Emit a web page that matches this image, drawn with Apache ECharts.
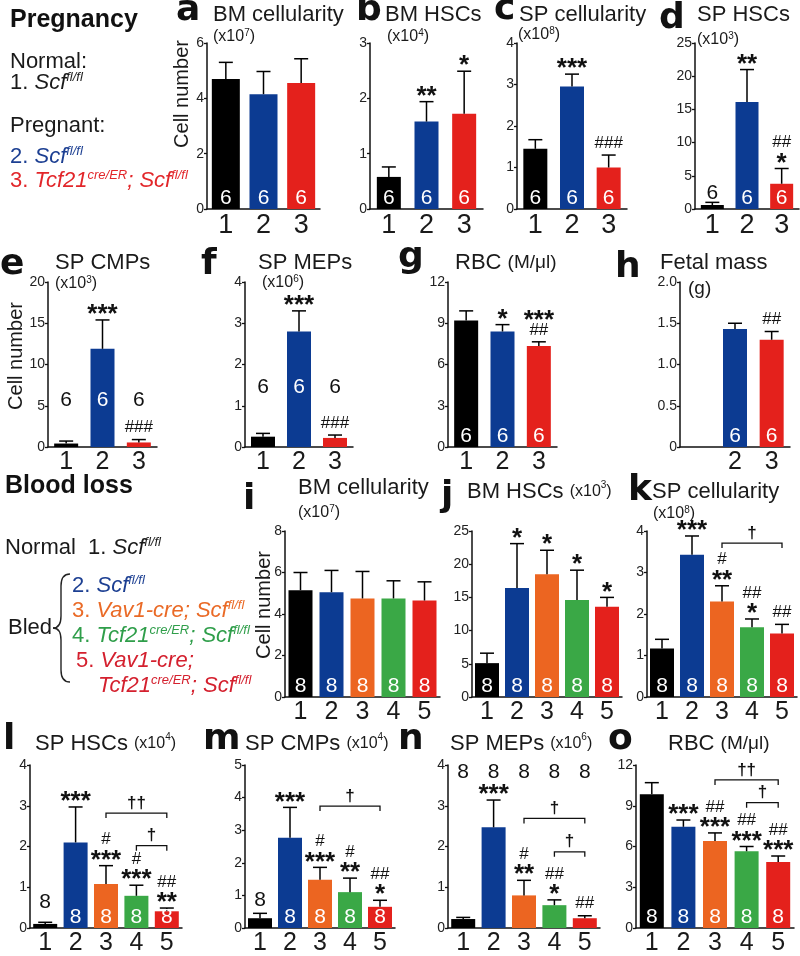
<!DOCTYPE html>
<html><head><meta charset="utf-8">
<script src="https://cdn.jsdelivr.net/npm/echarts@6/dist/echarts.min.js"></script>
<style>html,body{margin:0;padding:0;background:#fff}#c{width:800px;height:956px}</style>
</head><body><div id="c"></div>
<script>
// ---------- data ----------
const catsPreg = ['1', '2', '3'];
const catsFetal = ['', '2', '3'];
const catsBlood = ['1', '2', '3', '4', '5'];

const aMean = [4.7, 4.15, 4.55];   const aErr = [0.6, 0.82, 0.88];  const aN = [6, 6, 6];
const bMean = [0.58, 1.58, 1.72];  const bErr = [0.18, 0.36, 0.77]; const bN = [6, 6, 6];
const cMean = [1.45, 2.95, 1.0];   const cErr = [0.22, 0.3, 0.3];   const cN = [6, 6, 6];
const dMean = [0.6, 16.1, 3.8];    const dErr = [0.4, 4.9, 2.3];    const dN = [6, 6, 6];
const eMean = [0.42, 11.9, 0.55];  const eErr = [0.3, 3.5, 0.35];   const eN = [6, 6, 6];
const fMean = [0.25, 2.8, 0.22];   const fErr = [0.08, 0.5, 0.07];  const fN = [6, 6, 6];
const gMean = [9.2, 8.4, 7.35];    const gErr = [0.7, 0.5, 0.3];    const gN = [6, 6, 6];
const hMean = [null, 1.43, 1.3];   const hErr = [null, 0.07, 0.1];  const hN = [null, 6, 6];
const iMean = [5.15, 5.05, 4.75, 4.75, 4.65]; const iErr = [0.85, 1.05, 1.3, 0.85, 0.9];
const jMean = [5.1, 16.4, 18.5, 14.6, 13.6];  const jErr = [1.5, 6.7, 3.6, 4.5, 1.4];
const kMean = [1.17, 3.43, 2.3, 1.68, 1.53];  const kErr = [0.22, 0.45, 0.38, 0.2, 0.22];
const lMean = [0.1, 2.1, 1.08, 0.79, 0.41];   const lErr = [0.04, 0.87, 0.45, 0.26, 0.08];
const mMean = [0.3, 2.77, 1.48, 1.1, 0.65];   const mErr = [0.15, 0.93, 0.38, 0.43, 0.2];
const nMean = [0.22, 2.47, 0.8, 0.56, 0.24];  const nErr = [0.04, 0.67, 0.37, 0.13, 0.06];
const oMean = [9.85, 7.45, 6.4, 5.65, 4.85];  const oErr = [0.85, 0.5, 0.6, 0.35, 0.45];
const blN = [8, 8, 8, 8, 8];

// significance marks per bar (top line first)
const bSig = [[], ['**'], ['*']];
const cSig = [[], ['***'], ['###']];
const dSig = [[], ['**'], ['##', '*']];
const eSig = [[], ['***'], ['###']];
const fSig = [[], ['***'], ['###']];
const gSig = [[], ['*'], ['***', '##']];
const hSig = [[], [], ['##']];
const jSig = [[], ['*'], ['*'], ['*'], ['*']];
const kSig = [[], ['***'], ['#', '**'], ['##', '*'], ['##']];
const lSig = [[], ['***'], ['#', '***'], ['#', '***'], ['##', '**']];
const mSig = [[], ['***'], ['#', '***'], ['#', '**'], ['##', '*']];
const nSig = [[], ['***'], ['#', '**'], ['##', '*'], ['##']];
const oSig = [[], ['***'], ['##', '***'], ['##', '***'], ['##', '***']];

// comparison brackets: [from bar, to bar, height (axis units), mark]
const kBr = [[2, 4, 3.71, '†']];
const lBr = [[2, 4, 2.82, '††'], [3, 4, 2.02, '†']];
const mBr = [[2, 4, 3.74, '†']];
const nBr = [[2, 4, 2.69, '†'], [3, 4, 1.87, '†']];
const oBr = [[2, 4, 10.9, '††'], [3, 4, 9.23, '†']];

// ---------- styling / layout ----------
const FONT = "'Liberation Sans', Arial, sans-serif";
const colPreg = ['#000000', '#0c3b92', '#e4211c'];
const colBlood = ['#000000', '#0c3b92', '#ec6521', '#3aa846', '#e4211c'];
const NONE = [null, null, null, null, null];

const panels = [
  {cats: catsPreg, col: colPreg, mean: aMean, err: aErr, n: aN, nAt: NONE, sig: [], br: [], g: [207, 43, 113, 166], max: 6, step: 2, bw: 28, xfs: 27},
  {cats: catsPreg, col: colPreg, mean: bMean, err: bErr, n: bN, nAt: NONE, sig: bSig, br: [], g: [370, 43, 113, 166], max: 3, step: 1, bw: 24, xfs: 27},
  {cats: catsPreg, col: colPreg, mean: cMean, err: cErr, n: cN, nAt: NONE, sig: cSig, br: [], g: [517, 43, 110, 166], max: 4, step: 1, bw: 24, xfs: 27},
  {cats: catsPreg, col: colPreg, mean: dMean, err: dErr, n: dN, nAt: [2.4, null, null], sig: dSig, br: [], g: [695, 43, 104, 166], max: 25, step: 5, bw: 23, xfs: 27},
  {cats: catsPreg, col: colPreg, mean: eMean, err: eErr, n: eN, nAt: [5.7, 5.7, 5.7], sig: eSig, br: [], g: [48, 282, 109, 165], max: 20, step: 5, bw: 24, xfs: 25},
  {cats: catsPreg, col: colPreg, mean: fMean, err: fErr, n: fN, nAt: [1.46, 1.46, 1.46], sig: fSig, br: [], g: [245, 282, 108, 165], max: 4, step: 1, bw: 24, xfs: 25},
  {cats: catsPreg, col: colPreg, mean: gMean, err: gErr, n: gN, nAt: NONE, sig: gSig, br: [], g: [448, 282, 109, 165], max: 12, step: 3, bw: 24, xfs: 25},
  {cats: catsFetal, col: colPreg, mean: hMean, err: hErr, n: hN, nAt: NONE, sig: hSig, br: [], g: [680, 282, 110, 165], max: 2, step: 0.5, bw: 24, xfs: 25, fmt: v => v === 0 ? '0' : v.toFixed(1)},
  {cats: catsBlood, col: colBlood, mean: iMean, err: iErr, n: blN, nAt: NONE, sig: [], br: [], g: [285, 531, 155, 166], max: 8, step: 2, bw: 24, xfs: 25},
  {cats: catsBlood, col: colBlood, mean: jMean, err: jErr, n: blN, nAt: NONE, sig: jSig, br: [], g: [472, 531, 150, 166], max: 25, step: 5, bw: 24, xfs: 25},
  {cats: catsBlood, col: colBlood, mean: kMean, err: kErr, n: blN, nAt: NONE, sig: kSig, br: kBr, g: [647, 531, 150, 166], max: 4, step: 1, bw: 24, xfs: 25},
  {cats: catsBlood, col: colBlood, mean: lMean, err: lErr, n: blN, nAt: [0.63, null, null, null, null], sig: lSig, br: lBr, g: [30, 765, 152, 166], max: 4, step: 1, bw: 24, xfs: 25},
  {cats: catsBlood, col: colBlood, mean: mMean, err: mErr, n: blN, nAt: [0.84, null, null, null, null], sig: mSig, br: mBr, g: [245, 765, 150, 166], max: 5, step: 1, bw: 24, xfs: 25},
  {cats: catsBlood, col: colBlood, mean: nMean, err: nErr, n: blN, nAt: [3.83, 3.83, 3.83, 3.83, 3.83], sig: nSig, br: nBr, g: [448, 765, 152, 166], max: 4, step: 1, bw: 24, xfs: 25},
  {cats: catsBlood, col: colBlood, mean: oMean, err: oErr, n: blN, nAt: NONE, sig: oSig, br: oBr, g: [636, 765, 158, 166], max: 12, step: 3, bw: 24, xfs: 25}
];

function makeRender(p) {
  return function (params, api) {
    const i = api.value(0), v = api.value(1), e = api.value(2);
    const base = api.coord([i, 0]), top = api.coord([i, v]), et = api.coord([i, v + e]);
    const x = base[0];
    const ch = [];
    ch.push({type: 'line', shape: {x1: x, y1: top[1], x2: x, y2: et[1]}, style: {stroke: '#000', lineWidth: 1.5}});
    ch.push({type: 'line', shape: {x1: x - 7, y1: et[1], x2: x + 7, y2: et[1]}, style: {stroke: '#000', lineWidth: 1.5}});
    const at = p.nAt[i];
    let ly, lc;
    if (at == null) { ly = base[1] - 11; lc = '#ffffff'; }
    else { ly = api.coord([i, at])[1]; lc = at < v ? '#ffffff' : '#111111'; }
    if (p.n[i] != null) {
      ch.push({type: 'text', style: {text: String(p.n[i]), x: x, y: ly, fill: lc, fontSize: 21, fontFamily: FONT, align: 'center', verticalAlign: 'middle'}});
    }
    const lines = p.sig[i] || [];
    let cursor = et[1] - 6;
    for (let j = lines.length - 1; j >= 0; j--) {
      const s = lines[j];
      const star = s[0] === '*';
      const hh = star ? 5 : 6;
      const c = cursor - hh;
      ch.push({type: 'text', style: {text: s, x: x, y: star ? c + 6 : c, fill: '#111', fontSize: star ? 26 : 17,
        fontWeight: star ? 'bold' : 'normal', fontFamily: FONT, align: 'center', verticalAlign: 'middle'}});
      cursor = c - hh - 4;
    }
    return {type: 'group', children: ch};
  };
}

function makeBracket(p) {
  return function (params, api) {
    const a = api.value(0), b = api.value(1), y = api.value(2);
    const p1 = api.coord([a, y]), p2 = api.coord([b, y]);
    const t = p.br[params.dataIndex][3];
    return {type: 'group', children: [
      {type: 'polyline', shape: {points: [[p1[0], p1[1] + 5], [p1[0], p1[1]], [p2[0], p2[1]], [p2[0], p2[1] + 5]]},
        style: {stroke: '#111', lineWidth: 1.3, fill: null}},
      {type: 'text', style: {text: t, x: (p1[0] + p2[0]) / 2, y: p1[1] - 10, fill: '#111', fontSize: 17, fontWeight: 'bold',
        fontFamily: FONT, align: 'center', verticalAlign: 'middle'}}
    ]};
  };
}

const grid = [], xAxis = [], yAxis = [], series = [];
panels.forEach((p, k) => {
  grid.push({left: p.g[0], top: p.g[1], width: p.g[2], height: p.g[3], containLabel: false});
  xAxis.push({type: 'category', gridIndex: k, data: p.cats,
    axisLine: {lineStyle: {color: '#111', width: 1.5}},
    axisTick: {alignWithLabel: true, length: 5, lineStyle: {color: '#111', width: 1.3}},
    axisLabel: {fontSize: p.xfs, color: '#1a1a1a', margin: 3, fontFamily: FONT, interval: 0}});
  yAxis.push({type: 'value', gridIndex: k, min: 0, max: p.max, interval: p.step,
    splitLine: {show: false},
    axisLine: {show: true, lineStyle: {color: '#111', width: 1.5}},
    axisTick: {show: true, length: 3, lineStyle: {color: '#111', width: 1.3}},
    axisLabel: {fontSize: 14, color: '#222', margin: 3, fontFamily: FONT, formatter: p.fmt}});
  series.push({type: 'bar', xAxisIndex: k, yAxisIndex: k, barWidth: p.bw, silent: true,
    data: p.mean.map((v, i) => v == null ? '-' : {value: v, itemStyle: {color: p.col[i]}})});
  series.push({type: 'custom', xAxisIndex: k, yAxisIndex: k, z: 5, silent: true,
    data: p.mean.map((v, i) => [i, v, p.err[i]]).filter(d => d[1] != null), renderItem: makeRender(p)});
  if (p.br.length) {
    series.push({type: 'custom', xAxisIndex: k, yAxisIndex: k, z: 5, silent: true,
      data: p.br.map(b => [b[0], b[1], b[2]]), renderItem: makeBracket(p)});
  }
});

// ---------- text ----------
const G = [];
function T(x, y, text, o) {
  o = o || {};
  const el = {type: 'text', x: x, y: y, z: 10, style: Object.assign({text: text, fill: '#1a1a1a', fontSize: 22, fontFamily: FONT,
    align: 'left', verticalAlign: 'middle'}, o.style || {})};
  if (o.rot) el.rotation = o.rot;
  G.push(el);
}
function letter(x, y, t) { T(x, y, t, {style: {fontSize: 36, fontWeight: 'bold', fontFamily: "'DejaVu Sans', sans-serif", fill: '#111'}}); }
const richBase = function (fs, color) {
  return {
    n: {fontSize: fs, fill: color, fontFamily: FONT, lineHeight: fs + 2},
    i: {fontSize: fs, fill: color, fontFamily: FONT, fontStyle: 'italic', lineHeight: fs + 2},
    s: {fontSize: Math.round(fs * 0.58), fill: color, fontFamily: FONT, fontStyle: 'italic', verticalAlign: 'top', lineHeight: Math.round(fs * 0.58)},
    u: {fontSize: 16, fill: color, fontFamily: FONT, lineHeight: fs + 2},
    us: {fontSize: 10, fill: color, fontFamily: FONT, verticalAlign: 'top', lineHeight: 10 + Math.round((fs - 16) / 2)},
    m: {fontSize: 19, fill: color, fontFamily: FONT, lineHeight: fs + 2}
  };
};
function R(x, y, text, fs, color) {
  G.push({type: 'text', x: x, y: y, z: 10, style: {text: text, rich: richBase(fs, color), align: 'left', verticalAlign: 'middle'}});
}
function unit(x, y, exp) { R(x, y, '{u|(x10}{us|' + exp + '}{u|)}', 16, '#1a1a1a'); }
function curve(x1, y1, cx, cy, x2, y2) {
  G.push({type: 'bezierCurve', z: 10, shape: {x1: x1, y1: y1, cpx1: cx, cpy1: cy, x2: x2, y2: y2}, style: {stroke: '#222', lineWidth: 1.4, fill: null}});
}
function seg(x1, y1, x2, y2) {
  G.push({type: 'line', z: 10, shape: {x1: x1, y1: y1, x2: x2, y2: y2}, style: {stroke: '#222', lineWidth: 1.4}});
}

// Pregnancy legend
T(10, 20, 'Pregnancy', {style: {fontSize: 25, fontWeight: 'bold', fill: '#111'}});
T(10, 62, 'Normal:');
R(10, 83, '{n|1. }{i|Scf}{s|fl/fl}', 22, '#1a1a1a');
T(10, 126, 'Pregnant:');
R(10, 157, '{n|2. }{i|Scf}{s|fl/fl}', 22, '#1c3f92');
R(10, 181, '{n|3. }{i|Tcf21}{s|cre/ER}{i|; Scf}{s|fl/fl}', 22, '#e2262a');

// Blood loss legend
T(5, 486, 'Blood loss', {style: {fontSize: 25, fontWeight: 'bold', fill: '#111'}});
R(5, 548, '{n|Normal  1. }{i|Scf}{s|fl/fl}', 22, '#1a1a1a');
T(8, 628, 'Bled');
curve(70, 574, 61, 574, 61, 586); seg(61, 586, 61, 616); curve(61, 616, 61, 628, 53, 628);
curve(53, 628, 61, 628, 61, 640); seg(61, 640, 61, 670); curve(61, 670, 61, 682, 70, 682);
R(72, 586, '{n|2. }{i|Scf}{s|fl/fl}', 22, '#1c3f92');
R(72, 611, '{n|3. }{i|Vav1-cre; Scf}{s|fl/fl}', 22, '#ea6a26');
R(72, 636, '{n|4. }{i|Tcf21}{s|cre/ER}{i|; Scf}{s|fl/fl}', 22, '#2f9e4a');
R(76, 661, '{n|5. }{i|Vav1-cre;}', 22, '#d4202e');
R(98, 686, '{i|Tcf21}{s|cre/ER}{i|; Scf}{s|fl/fl}', 22, '#d4202e');

// Cell number labels
[[182, 94], [16, 356], [264, 605]].forEach(p => T(p[0], p[1], 'Cell number', {rot: Math.PI / 2, style: {align: 'center', fontSize: 20}}));

// panel letters
letter(176, 11, 'a'); letter(356, 11, 'b'); letter(494, 10, 'c'); letter(659, 19, 'd');
letter(0, 265, 'e'); letter(201, 265, 'f'); letter(398, 258, 'g'); letter(615, 268, 'h');
letter(243, 500, 'i'); letter(441, 497, 'j'); letter(628, 491, 'k');
letter(3, 740, 'l'); letter(203, 740, 'm'); letter(398, 740, 'n'); letter(608, 740, 'o');

// titles
T(213, 15, 'BM cellularity'); unit(213, 37, '7');
T(385, 15, 'BM HSCs'); unit(387, 37, '4');
T(519, 15, 'SP cellularity'); unit(518, 35, '8');
T(697, 15, 'SP HSCs'); unit(697, 40, '3');
T(55, 263, 'SP CMPs'); unit(55, 284, '3');
T(258, 263, 'SP MEPs'); unit(262, 283, '6');
R(455, 263, '{n|RBC }{m|(M/μl)}', 22, '#1a1a1a');
T(660, 263, 'Fetal mass'); T(688, 289, '(g)', {style: {fontSize: 19}});
T(298, 488, 'BM cellularity'); unit(298, 513, '7');
R(467, 492, '{n|BM HSCs }{u|(x10}{us|3}{u|)}', 22, '#1a1a1a');
T(652, 492, 'SP cellularity'); unit(653, 514, '8');
R(35, 744, '{n|SP HSCs }{u|(x10}{us|4}{u|)}', 22, '#1a1a1a');
R(245, 744, '{n|SP CMPs }{u|(x10}{us|4}{u|)}', 22, '#1a1a1a');
R(450, 744, '{n|SP MEPs }{u|(x10}{us|6}{u|)}', 22, '#1a1a1a');
R(668, 744, '{n|RBC }{m|(M/μl)}', 22, '#1a1a1a');

const chart = echarts.init(document.getElementById('c'), null, {renderer: 'canvas'});
chart.setOption({animation: false, backgroundColor: '#ffffff', grid, xAxis, yAxis, series, graphic: G});
</script></body></html>
